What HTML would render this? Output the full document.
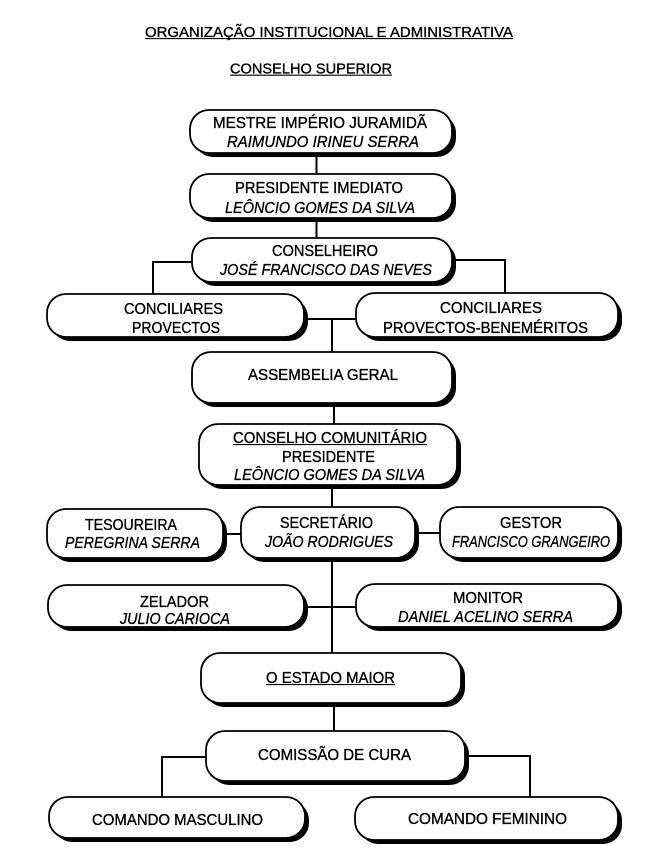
<!DOCTYPE html>
<html>
<head>
<meta charset="utf-8">
<style>
html,body{margin:0;padding:0;background:#fff;}
svg{display:block;}
text{font-family:"Liberation Sans",Arial,sans-serif;fill:#000;stroke:#000;stroke-width:0.35;}
.i{font-style:italic;}
</style>
</head>
<body>
<svg width="656" height="856" viewBox="0 0 656 856" xmlns="http://www.w3.org/2000/svg">
<rect width="656" height="856" fill="#fff"/>

<!-- Titles -->
<text x="145" y="37" font-size="14.5" textLength="368" lengthAdjust="spacingAndGlyphs">ORGANIZAÇÃO INSTITUCIONAL E ADMINISTRATIVA</text>
<line x1="145" y1="38.6" x2="513" y2="38.6" stroke="#000" stroke-width="1.1"/>
<text x="230" y="73.5" font-size="14.5" textLength="162" lengthAdjust="spacingAndGlyphs">CONSELHO SUPERIOR</text>
<line x1="230" y1="75.2" x2="392" y2="75.2" stroke="#000" stroke-width="1.1"/>

<!-- Connectors -->
<g stroke="#000" stroke-width="2" fill="none">
  <line x1="316.5" y1="153" x2="316.5" y2="174"/>
  <line x1="316.5" y1="218" x2="316.5" y2="238"/>
  <polyline points="192,262 153,262 153,294"/>
  <polyline points="452,260 505,260 505,293"/>
  <line x1="304" y1="319" x2="356" y2="319"/>
  <line x1="332" y1="319" x2="332" y2="352"/>
  <line x1="334" y1="403" x2="334" y2="424"/>
  <line x1="332" y1="485" x2="332" y2="507"/>
  <line x1="223" y1="534" x2="241" y2="534"/>
  <line x1="415" y1="533" x2="440" y2="533"/>
  <line x1="332" y1="558" x2="332" y2="653"/>
  <line x1="304" y1="607" x2="356" y2="607"/>
  <line x1="334" y1="703" x2="334" y2="731"/>
  <polyline points="206,757 162,757 162,797"/>
  <polyline points="465,756 530,756 530,797"/>
</g>

<!-- Box shadows -->
<g fill="#000">
  <rect x="194" y="114" width="262" height="43" rx="19" ry="19"/>
  <rect x="194" y="178" width="262" height="44" rx="19" ry="19"/>
  <rect x="196" y="242" width="260" height="44" rx="19" ry="19"/>
  <rect x="51" y="298" width="257" height="43" rx="19" ry="19"/>
  <rect x="360" y="297" width="262" height="44" rx="19" ry="19"/>
  <rect x="196" y="356" width="260" height="51" rx="19" ry="19"/>
  <rect x="203" y="428" width="258" height="61" rx="19" ry="19"/>
  <rect x="51" y="513" width="176" height="49" rx="19" ry="19"/>
  <rect x="245" y="511" width="174" height="51" rx="19" ry="19"/>
  <rect x="444" y="511" width="178" height="51" rx="19" ry="19"/>
  <rect x="52" y="589" width="256" height="42" rx="19" ry="19"/>
  <rect x="360" y="588" width="262" height="43" rx="19" ry="19"/>
  <rect x="205" y="657" width="260" height="50" rx="19" ry="19"/>
  <rect x="210" y="735" width="259" height="50" rx="19" ry="19"/>
  <rect x="53" y="801" width="256" height="41" rx="19" ry="19"/>
  <rect x="359" y="801" width="263" height="43" rx="19" ry="19"/>
</g>

<!-- Boxes -->
<g fill="#fff" stroke="#000" stroke-width="1.8">
  <rect x="190" y="110" width="262" height="43" rx="19" ry="19"/>
  <rect x="190" y="174" width="262" height="44" rx="19" ry="19"/>
  <rect x="192" y="238" width="260" height="44" rx="19" ry="19"/>
  <rect x="47" y="294" width="257" height="43" rx="19" ry="19"/>
  <rect x="356" y="293" width="262" height="44" rx="19" ry="19"/>
  <rect x="192" y="352" width="260" height="51" rx="19" ry="19"/>
  <rect x="199" y="424" width="258" height="61" rx="19" ry="19"/>
  <rect x="47" y="509" width="176" height="49" rx="19" ry="19"/>
  <rect x="241" y="507" width="174" height="51" rx="19" ry="19"/>
  <rect x="440" y="507" width="178" height="51" rx="19" ry="19"/>
  <rect x="48" y="585" width="256" height="42" rx="19" ry="19"/>
  <rect x="356" y="584" width="262" height="43" rx="19" ry="19"/>
  <rect x="201" y="653" width="260" height="50" rx="19" ry="19"/>
  <rect x="206" y="731" width="259" height="50" rx="19" ry="19"/>
  <rect x="49" y="797" width="256" height="41" rx="19" ry="19"/>
  <rect x="355" y="797" width="263" height="43" rx="19" ry="19"/>
</g>

<!-- Labels -->
<g font-size="16">
  <text x="213" y="128" textLength="214" lengthAdjust="spacingAndGlyphs">MESTRE IMPÉRIO JURAMIDÃ</text>
  <text class="i" x="227" y="147" textLength="192" lengthAdjust="spacingAndGlyphs">RAIMUNDO IRINEU SERRA</text>

  <text x="235" y="193" textLength="168" lengthAdjust="spacingAndGlyphs">PRESIDENTE IMEDIATO</text>
  <text class="i" x="225" y="213" textLength="190" lengthAdjust="spacingAndGlyphs">LEÔNCIO GOMES DA SILVA</text>

  <text x="272" y="256" textLength="106" lengthAdjust="spacingAndGlyphs">CONSELHEIRO</text>
  <text class="i" x="220" y="275" textLength="212" lengthAdjust="spacingAndGlyphs">JOSÉ FRANCISCO DAS NEVES</text>

  <text x="124" y="314" textLength="99" lengthAdjust="spacingAndGlyphs">CONCILIARES</text>
  <text x="132" y="333" textLength="88" lengthAdjust="spacingAndGlyphs">PROVECTOS</text>

  <text x="440" y="313" textLength="102" lengthAdjust="spacingAndGlyphs">CONCILIARES</text>
  <text x="383" y="333" textLength="205" lengthAdjust="spacingAndGlyphs">PROVECTOS-BENEMÉRITOS</text>

  <text x="248" y="380" textLength="150" lengthAdjust="spacingAndGlyphs">ASSEMBELIA GERAL</text>

  <text x="233" y="443" textLength="194" lengthAdjust="spacingAndGlyphs">CONSELHO COMUNITÁRIO</text>
  <text x="282" y="462" textLength="93" lengthAdjust="spacingAndGlyphs">PRESIDENTE</text>
  <text class="i" x="234" y="480" textLength="191" lengthAdjust="spacingAndGlyphs">LEÔNCIO GOMES DA SILVA</text>

  <text x="85" y="530" textLength="92" lengthAdjust="spacingAndGlyphs">TESOUREIRA</text>
  <text class="i" x="65" y="548" textLength="135" lengthAdjust="spacingAndGlyphs">PEREGRINA SERRA</text>

  <text x="280" y="528" textLength="93" lengthAdjust="spacingAndGlyphs">SECRETÁRIO</text>
  <text class="i" x="265" y="547" textLength="128" lengthAdjust="spacingAndGlyphs">JOÃO RODRIGUES</text>

  <text x="500" y="528" textLength="62" lengthAdjust="spacingAndGlyphs">GESTOR</text>
  <text class="i" x="452" y="547" textLength="158" lengthAdjust="spacingAndGlyphs">FRANCISCO GRANGEIRO</text>

  <text x="140" y="607" textLength="69" lengthAdjust="spacingAndGlyphs">ZELADOR</text>
  <text class="i" x="120" y="624" textLength="110" lengthAdjust="spacingAndGlyphs">JULIO CARIOCA</text>

  <text x="453" y="603" textLength="70" lengthAdjust="spacingAndGlyphs">MONITOR</text>
  <text class="i" x="398" y="622" textLength="175" lengthAdjust="spacingAndGlyphs">DANIEL ACELINO SERRA</text>

  <text x="266" y="683" textLength="129" lengthAdjust="spacingAndGlyphs">O ESTADO MAIOR</text>

  <text x="258" y="760" textLength="153" lengthAdjust="spacingAndGlyphs">COMISSÃO DE CURA</text>

  <text x="92" y="825" textLength="171" lengthAdjust="spacingAndGlyphs">COMANDO MASCULINO</text>
  <text x="408" y="824" textLength="159" lengthAdjust="spacingAndGlyphs">COMANDO FEMININO</text>
</g>

<!-- Underlines in boxes -->
<g stroke="#000" stroke-width="1.1">
  <line x1="233" y1="444.6" x2="427" y2="444.6"/>
  <line x1="266" y1="684.6" x2="395" y2="684.6"/>
</g>
</svg>
</body>
</html>
